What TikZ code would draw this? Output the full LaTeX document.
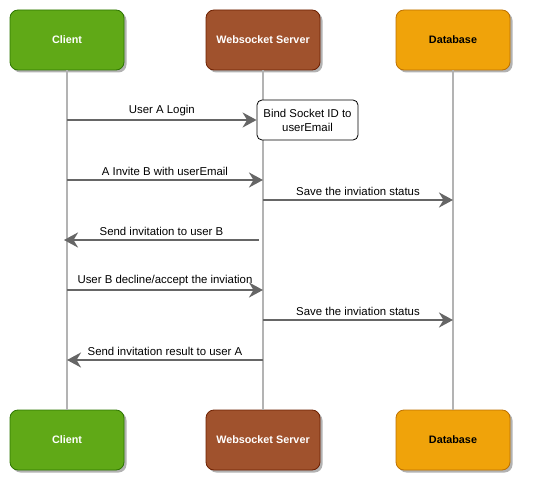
\documentclass[tikz,border=0pt]{standalone}
\usepackage{fontspec}
\setmainfont{Liberation Sans}
\usetikzlibrary{arrows.meta,shadows}

\definecolor{clientfill}{HTML}{60A917}
\definecolor{clientline}{HTML}{2D7600}
\definecolor{serverfill}{HTML}{A0522D}
\definecolor{serverline}{HTML}{6D1F00}
\definecolor{dbfill}{HTML}{F0A30A}
\definecolor{dbline}{HTML}{BD7000}
\definecolor{msgcol}{HTML}{666666}
\definecolor{lifecol}{HTML}{B3B3B3}

\tikzset{
  party/.style={draw, rounded corners=8pt, minimum width=114pt, minimum height=60pt,
    font=\fontsize{10.8}{13}\selectfont\bfseries, line width=0.8pt,
    drop shadow={shadow xshift=2.5pt, shadow yshift=-2.5pt, fill=black!30, opacity=1}},
  life/.style={draw=lifecol, line width=2pt},
  msg/.style={draw=msgcol, line width=2.2pt,
    -{Stealth[length=14pt, width=15pt, inset=4.5pt]}},
  msgtext/.style={font=\fontsize{11.4}{13}\selectfont, above, inner sep=2pt, yshift=1pt},
}

\begin{document}
\begin{tikzpicture}[x=1pt, y=-1pt]
\useasboundingbox (0,0) rectangle (549,484);

% participants
\node[party, fill=clientfill, draw=clientline, text=white] (client) at (67,40) {Client};
\node[party, fill=serverfill, draw=serverline, text=white] (server) at (263,40) {Websocket Server};
\node[party, fill=dbfill, draw=dbline, text=black] (db) at (453,40) {Database};

\node[party, fill=clientfill, draw=clientline, text=white] (clientB) at (67,440) {Client};
\node[party, fill=serverfill, draw=serverline, text=white] (serverB) at (263,440) {Websocket Server};
\node[party, fill=dbfill, draw=dbline, text=black] (dbB) at (453,440) {Database};

% lifelines
\draw[life] (client.south) -- (clientB.north);
\draw[life] (server.south) -- (serverB.north);
\draw[life] (db.south) -- (dbB.north);

% note on the server
\node[draw, fill=white, rounded corners=5pt, line width=0.8pt, minimum width=101pt,
  minimum height=40pt, align=center, font=\fontsize{11.4}{14}\selectfont]
  (bind) at (307.5,120) {Bind Socket ID to\\userEmail};

% messages
\draw[msg] (client |- 0,120) -- node[msgtext] {User A Login} (bind.west);
\draw[msg] (client |- 0,180) -- node[msgtext] {A Invite B with userEmail} (server |- 0,180);
\draw[msg] (server |- 0,200) -- node[msgtext] {Save the inviation status} (db |- 0,200);
\draw[msg] ([xshift=-4pt]server |- 0,240) -- node[msgtext] {Send invitation to user B} ([xshift=-3pt]client |- 0,240);
\draw[msg] (client |- 0,290) -- node[msgtext] {User B decline/accept the inviation} (server |- 0,290);
\draw[msg] (server |- 0,320) -- node[msgtext] {Save the inviation status} (db |- 0,320);
\draw[msg] (server |- 0,360) -- node[msgtext] {Send invitation result to user A} (client |- 0,360);

\end{tikzpicture}
\end{document}
